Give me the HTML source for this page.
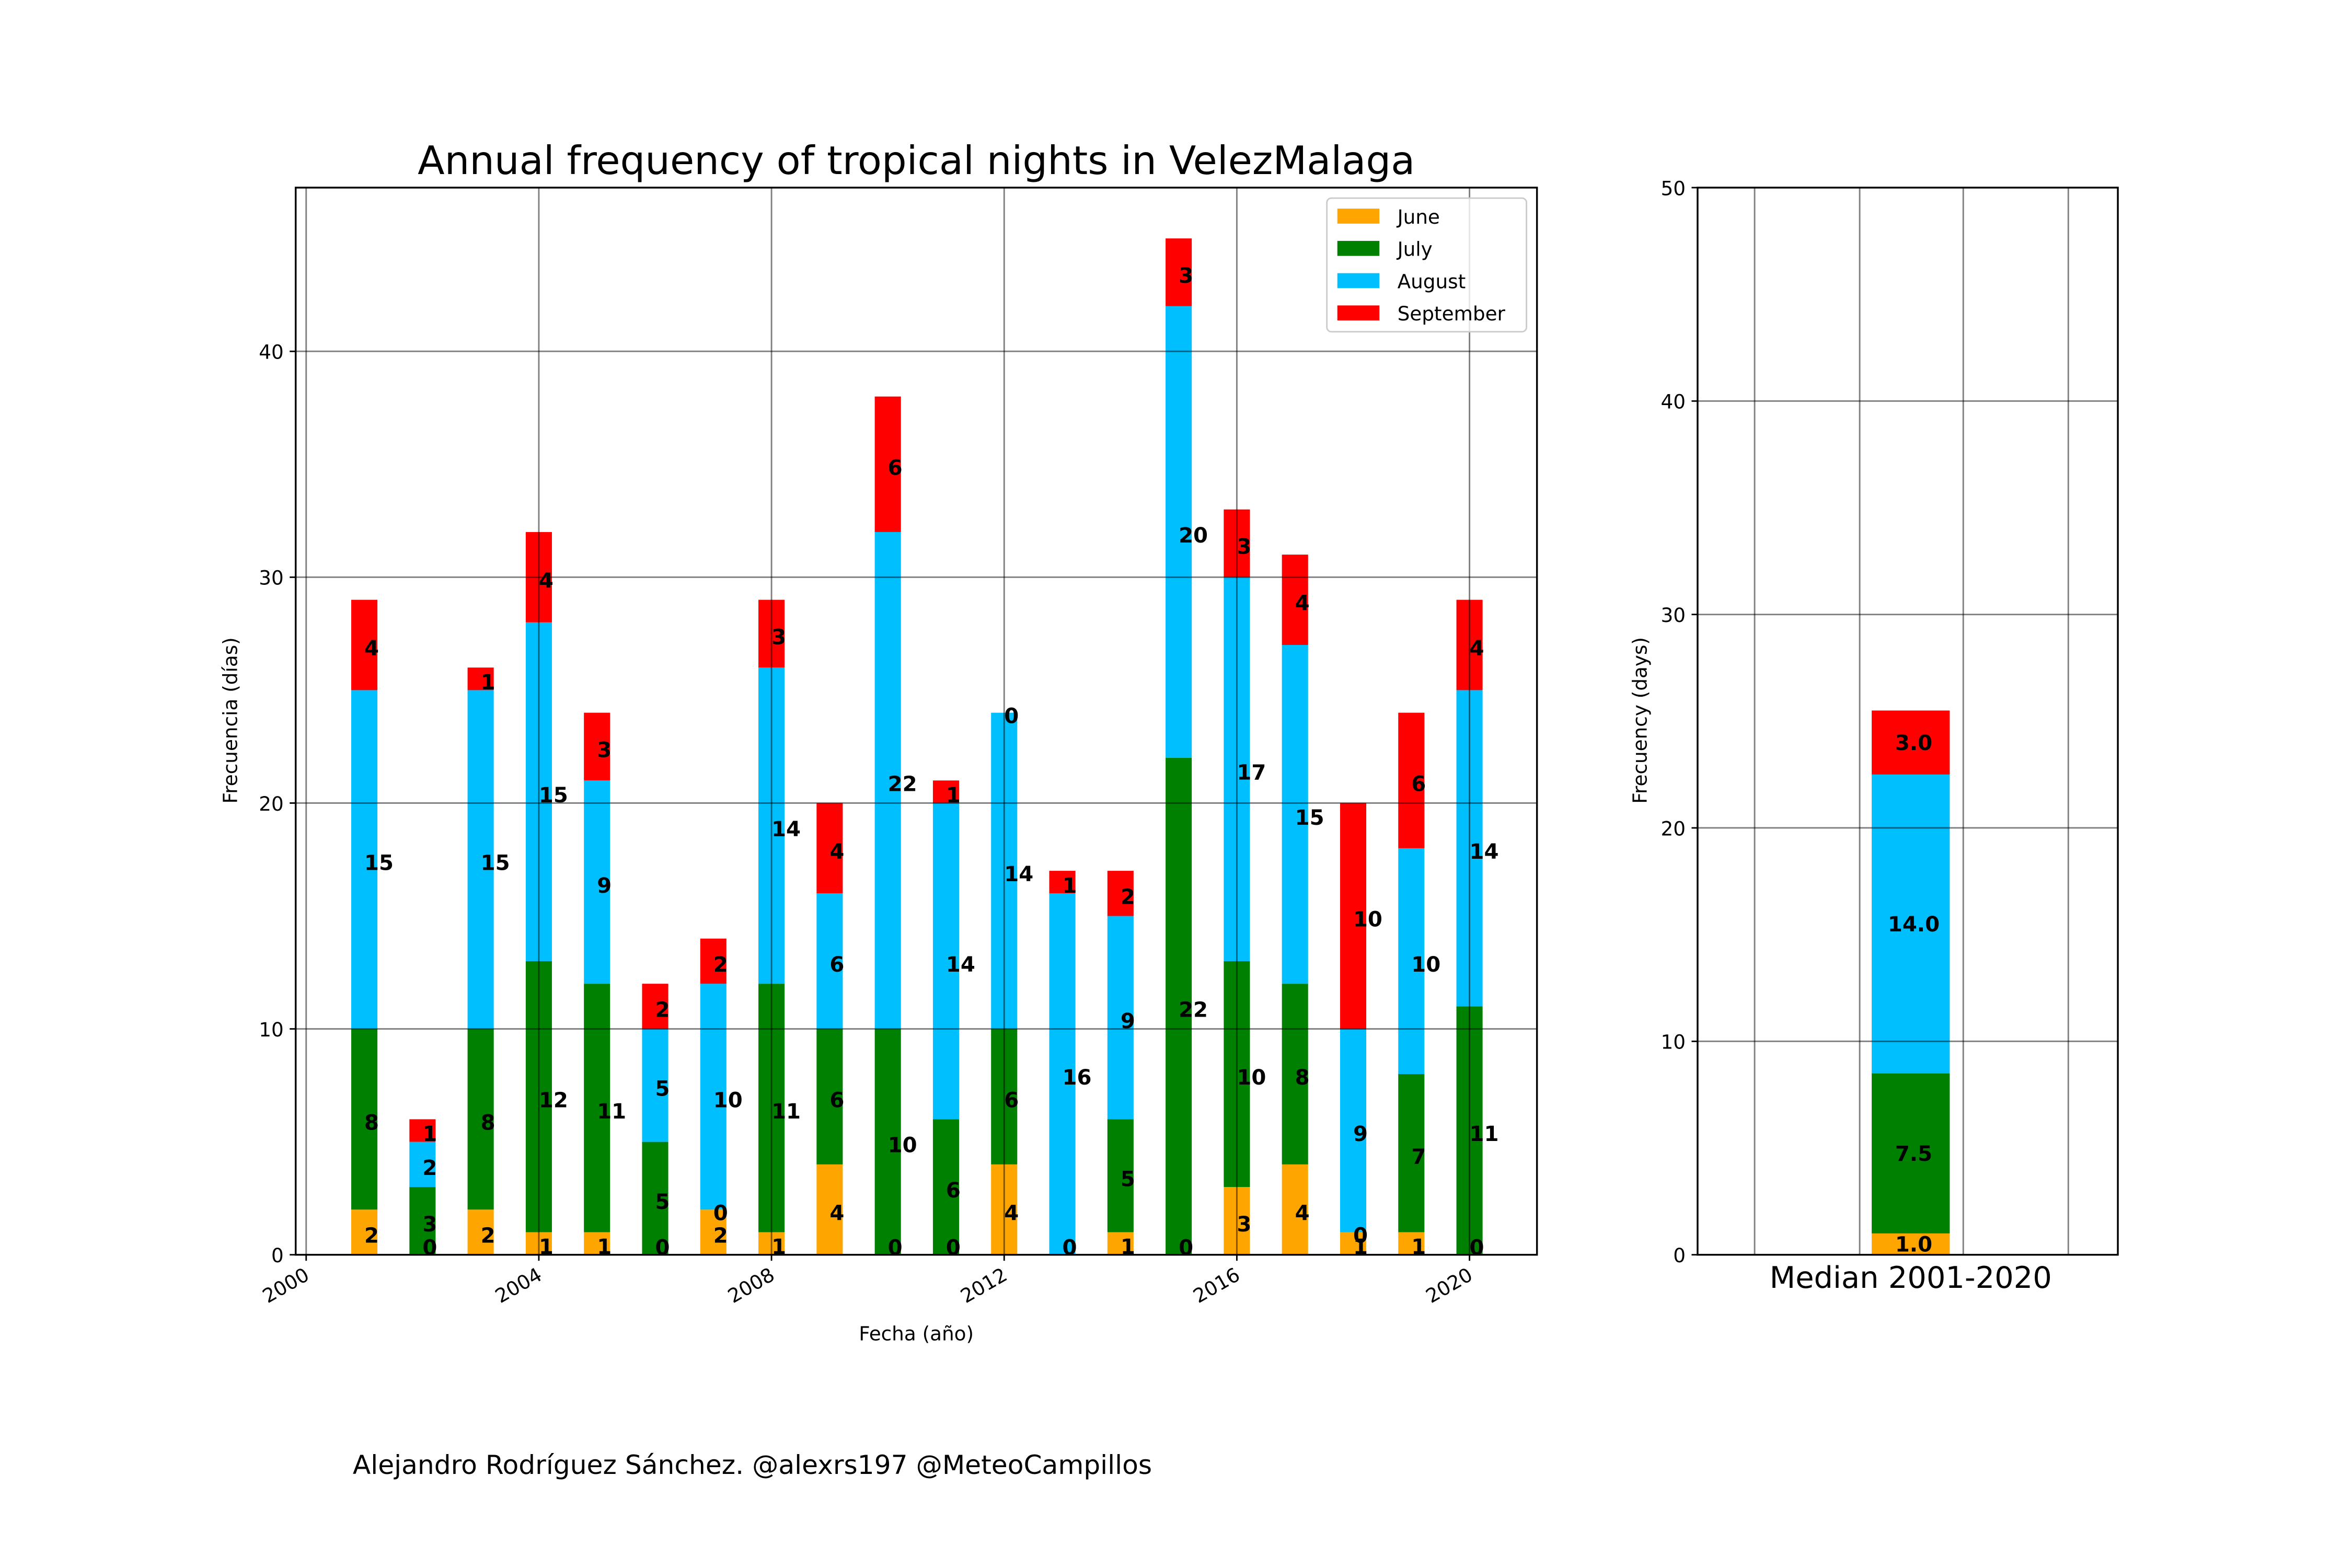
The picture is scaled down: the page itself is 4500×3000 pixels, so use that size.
<!DOCTYPE html>
<html><head><meta charset="utf-8"><style>
html,body{margin:0;padding:0;background:#fff;}
svg{display:block;font-family:"DejaVu Sans","Liberation Sans",sans-serif;}
</style></head><body>
<svg id="chart" width="4500" height="3000" viewBox="0 0 1567 1044.7" preserveAspectRatio="none" xmlns="http://www.w3.org/2000/svg">
<rect x="0" y="0" width="1567" height="1045" fill="#fff"/>
<text x="610.5" y="116" font-size="26.2" text-anchor="middle">Annual frequency of tropical nights in VelezMalaga</text>
<text x="610.5" y="893" font-size="13" text-anchor="middle">Fecha (año)</text>
<text x="0" y="0" font-size="13" text-anchor="middle" transform="translate(158,480) rotate(-90)">Frecuencia (días)</text>
<text x="0" y="0" font-size="13" text-anchor="middle" transform="translate(1097,480) rotate(-90)">Frecuency (days)</text>
<text x="1273" y="858" font-size="20" text-anchor="middle">Median 2001-2020</text>
<text x="235" y="982" font-size="17.5">Alejandro Rodríguez Sánchez. @alexrs197 @MeteoCampillos</text>
<g id="main"></g>
<g id="median"></g>
</svg>
<script>
const years = [2001,2002,2003,2004,2005,2006,2007,2008,2009,2010,2011,2012,2013,2014,2015,2016,2017,2018,2019,2020];
const june = [2,0,2,1,1,0,2,1,4,0,0,4,0,1,0,3,4,1,1,0];
const july = [8,3,8,12,11,5,0,11,6,10,6,6,0,5,22,10,8,0,7,11];
const august = [15,2,15,15,9,5,10,14,6,22,14,14,16,9,20,17,15,9,10,14];
const september = [4,1,1,4,3,2,2,3,4,6,1,0,1,2,3,3,4,10,6,4];
const yTicks = [0,10,20,30,40];
const xTicks = [2000,2004,2008,2012,2016,2020];
const medianValues = [1.0,7.5,14.0,3.0];
const medianLabels = ["1.0","7.5","14.0","3.0"];
const medianYTicks = [0,10,20,30,40,50];
const seriesNames = ["June","July","August","September"];
const colors = ["#ffa500","#008000","#00bfff","#ff0000"];

const NS="http://www.w3.org/2000/svg";
function mk(parent,tag,attrs,text){const e=document.createElementNS(NS,tag);for(const k in attrs)e.setAttribute(k,attrs[k]);if(text!==undefined)e.textContent=text;parent.appendChild(e);return e;}

const L=197,R=1024,T=125,B=836;
const xMin=1999.82,xMax=2021.16,yMax=47.25;
const xs=v=>L+(v-xMin)/(xMax-xMin)*(R-L);
const ys=v=>B-v/yMax*(B-T);
const g=document.getElementById('main');
const series=[june,july,august,september];
const bw=0.45*(R-L)/(xMax-xMin);
years.forEach((yr,i)=>{
  let base=0;
  series.forEach((s,k)=>{
    const v=s[i];
    const r=mk(g,'rect',{x:xs(yr)-bw/2,y:ys(base+v),width:bw,height:ys(base)-ys(base+v),fill:colors[k]});
    
    
    base+=v;
  });
});
years.forEach((yr,i)=>{
  let base=0;
  series.forEach((s,k)=>{
    const v=s[i];
    const off=(base+v/2)<0.5?0:7;
    const t=mk(g,'text',{x:xs(yr),y:ys(base+v/2)+off,'font-size':14,'font-weight':'bold'},String(v));
    
    
    base+=v;
  });
});
yTicks.forEach(v=>{
  const l=mk(g,'line',{x1:L,x2:R,y1:ys(v),y2:ys(v),stroke:'#000','stroke-opacity':0.5,'stroke-width':1});
  
  
  mk(g,'line',{x1:L-4,x2:L,y1:ys(v),y2:ys(v),stroke:'#000','stroke-width':1});
  const t=mk(g,'text',{x:L-8,y:ys(v)+5,'font-size':13,'text-anchor':'end'},String(v));
  
  
});
xTicks.forEach(v=>{
  const x=xs(v);
  const l=mk(g,'line',{x1:x,x2:x,y1:T,y2:B,stroke:'#000','stroke-opacity':0.5,'stroke-width':1});
  
  
  mk(g,'line',{x1:x,x2:x,y1:B,y2:B+4,stroke:'#000','stroke-width':1});
  const t=mk(g,'text',{x:0,y:0,'font-size':13,'text-anchor':'end',transform:`translate(${x+3},${B+16}) rotate(-30)`},String(v));
  
  
});
const frame=mk(g,'rect',{x:L,y:T,width:R-L,height:B-T,fill:'none',stroke:'#000','stroke-width':1.2});


const lg=mk(g,'g',{});


mk(lg,'rect',{x:884,y:132,width:133,height:89,rx:3,fill:'#fff','fill-opacity':0.8,stroke:'#ccc','stroke-width':1});
seriesNames.forEach((n,k)=>{
  const e=mk(lg,'g',{});
  
  
  const y=139+k*21.5;
  mk(e,'rect',{x:891,y:y,width:28,height:10,fill:colors[k]});
  mk(e,'text',{x:931,y:y+10,'font-size':13},n);
});

const L2=1131,R2=1411;
const ys2=v=>B-v/50*(B-T);
const g2=document.getElementById('median');
let mb=0;
medianValues.forEach((v,k)=>{
  const r=mk(g2,'rect',{x:1247,y:ys2(mb+v),width:52,height:ys2(mb)-ys2(mb+v),fill:colors[k]});
  
  
  mb+=v;
});
mb=0;
medianValues.forEach((v,k)=>{
  const t=mk(g2,'text',{x:1275,y:ys2(mb+v/2)+5,'font-size':14,'font-weight':'bold','text-anchor':'middle'},medianLabels[k]);
  
  
  mb+=v;
});
medianYTicks.forEach(v=>{
  const l=mk(g2,'line',{x1:L2,x2:R2,y1:ys2(v),y2:ys2(v),stroke:'#000','stroke-opacity':0.5,'stroke-width':1});
  
  
  mk(g2,'line',{x1:L2-4,x2:L2,y1:ys2(v),y2:ys2(v),stroke:'#000','stroke-width':1});
  const t=mk(g2,'text',{x:L2-8,y:ys2(v)+5,'font-size':13,'text-anchor':'end'},String(v));
  
  
});
[1169,1239,1308,1378].forEach(x=>{
  const l=mk(g2,'line',{x1:x,x2:x,y1:T,y2:B,stroke:'#000','stroke-opacity':0.5,'stroke-width':1});
  
  
});
const f2=mk(g2,'rect',{x:L2,y:T,width:R2-L2,height:B-T,fill:'none',stroke:'#000','stroke-width':1.2});


</script>
</body></html>
